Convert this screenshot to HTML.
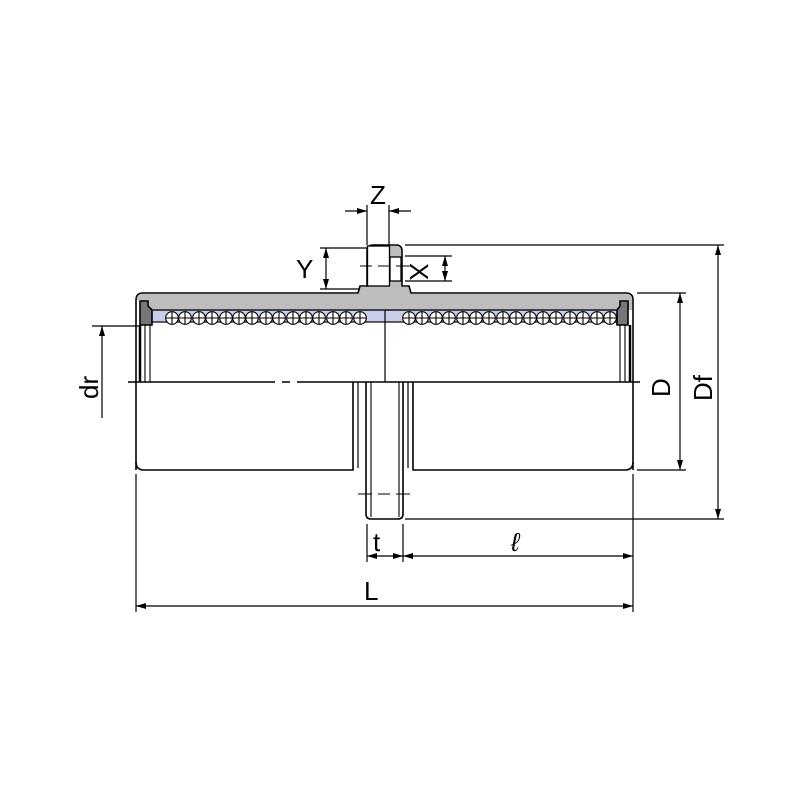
<!DOCTYPE html>
<html><head><meta charset="utf-8"><style>html,body{margin:0;padding:0;background:#fff}svg{display:block}</style></head>
<body>
<svg width="800" height="800" viewBox="0 0 800 800" xmlns="http://www.w3.org/2000/svg" font-family="Liberation Sans, sans-serif">
<defs>
<marker id="a" viewBox="0 0 10 6" refX="10" refY="3" markerWidth="10" markerHeight="6" orient="auto-start-reverse" markerUnits="userSpaceOnUse"><path d="M0,0L10,3L0,6z" fill="#000"/></marker>
<g id="b"><circle cx="0" cy="318" r="6.3" fill="#fff" stroke="#000" stroke-width="1.1"/><path d="M-6.3,318h12.6M0,311.7v12.6" stroke="#000" stroke-width="1.1"/></g>
</defs>
<g stroke="#000" fill="none" stroke-width="1.6">
<rect x="143" y="310" width="482" height="12" fill="#c8cdea" stroke="#000" stroke-width="1.2"/>
<path d="M137,300 Q137,294 143,294 L358,294 L360,287 L367,287 L367,251 Q367,246 373,246 L396,246 Q401,246 401,251 L401,287 L409,287 L411,294 L626,294 Q632,294 632,300 L632,310 L140,310 L140,300 Z" fill="#bdbdbd" stroke="none"/>
<path d="M136,300 Q136,293 143,293 L358,293 L360,286 L367,286 L367,251 Q367,245 373,245 L396,245 Q402,245 402,251 L402,286 L409,286 L411,293 L626,293 Q633,293 633,300" />
<rect x="367.5" y="246" width="22" height="40" fill="#fff" stroke="#000" stroke-width="1.3"/>
<rect x="390" y="257" width="11" height="24" fill="#fff" stroke="#000" stroke-width="1.3"/>
<line x1="150" y1="310" x2="618" y2="310" stroke-width="1.3"/>
<path d="M140,301 L148,301 L148,306 L152,310 L152,325 L140,325 Z" fill="#777"/>
<path d="M628,301 L620,301 L620,306 L617,310 L617,325 L628,325 Z" fill="#777"/>
<line x1="136" y1="300" x2="136" y2="470"/>
<line x1="633" y1="300" x2="633" y2="470"/>
<line x1="140" y1="325" x2="140" y2="382" stroke-width="2.5"/>
<line x1="145" y1="325" x2="145" y2="382" stroke-width="1.1"/>
<line x1="150" y1="325" x2="150" y2="382" stroke-width="1.1"/>
<line x1="630" y1="325" x2="630" y2="382" stroke-width="2.5"/>
<line x1="625" y1="325" x2="625" y2="382" stroke-width="1.1"/>
<line x1="620" y1="325" x2="620" y2="382" stroke-width="1.1"/>
</g>
<g>
<use href="#b" x="172"/><use href="#b" x="185"/><use href="#b" x="199"/><use href="#b" x="212"/><use href="#b" x="226"/><use href="#b" x="239"/><use href="#b" x="252"/><use href="#b" x="266"/><use href="#b" x="279"/><use href="#b" x="293"/><use href="#b" x="306"/><use href="#b" x="319"/><use href="#b" x="333"/><use href="#b" x="346"/><use href="#b" x="360"/>
<use href="#b" x="409"/><use href="#b" x="422"/><use href="#b" x="436"/><use href="#b" x="449"/><use href="#b" x="463"/><use href="#b" x="476"/><use href="#b" x="489"/><use href="#b" x="503"/><use href="#b" x="516"/><use href="#b" x="530"/><use href="#b" x="543"/><use href="#b" x="556"/><use href="#b" x="570"/><use href="#b" x="583"/><use href="#b" x="597"/><use href="#b" x="610"/>
</g>
<g stroke="#000" fill="none" stroke-width="1.6">
<line x1="385" y1="310" x2="385" y2="382" stroke-width="1.2"/>
<path d="M128,382 L275,382 M282,382 L290,382 M297,382 L640,382" stroke-width="1.4"/>
<path d="M136,462 Q136,470 144,470 L353,470 L353,382"/>
<path d="M633,462 Q633,470 625,470 L413,470 L413,382"/>
<line x1="358" y1="382" x2="358" y2="468" stroke-width="1.2"/>
<line x1="408" y1="382" x2="408" y2="468" stroke-width="1.2"/>
<path d="M366,382 L366,514 Q366,519 371,519 L398,519 Q403,519 403,514 L403,382"/>
<line x1="371" y1="382" x2="371" y2="517" stroke-width="1.1"/>
<line x1="399" y1="382" x2="399" y2="517" stroke-width="1.1"/>
<path d="M358,494 L372,494 M378,494 L390,494 M396,494 L410,494" stroke-width="1.1"/>
<path d="M360,266 L372,266 M378,266 L390,266 M396,266 L410,266" stroke-width="1.1"/>
</g>
<g stroke="#000" stroke-width="1.2" fill="none">
<line x1="367" y1="205" x2="367" y2="245"/>
<line x1="389" y1="205" x2="389" y2="245"/>
<line x1="345" y1="211" x2="367" y2="211" marker-end="url(#a)"/>
<line x1="411" y1="211" x2="389" y2="211" marker-end="url(#a)"/>
<line x1="320" y1="248" x2="367" y2="248"/>
<line x1="320" y1="289" x2="360" y2="289"/>
<line x1="326" y1="248" x2="326" y2="289" marker-start="url(#a)" marker-end="url(#a)"/>
<line x1="405" y1="256" x2="452" y2="256"/>
<line x1="405" y1="281" x2="452" y2="281"/>
<line x1="445" y1="256" x2="445" y2="281" marker-start="url(#a)" marker-end="url(#a)"/>
<line x1="405" y1="245" x2="724" y2="245"/>
<line x1="405" y1="519" x2="724" y2="519"/>
<line x1="718" y1="245" x2="718" y2="519" marker-start="url(#a)" marker-end="url(#a)"/>
<line x1="637" y1="293" x2="686" y2="293"/>
<line x1="637" y1="470" x2="686" y2="470"/>
<line x1="680" y1="293" x2="680" y2="470" marker-start="url(#a)" marker-end="url(#a)"/>
<line x1="92" y1="326" x2="140" y2="326"/>
<line x1="102" y1="418" x2="102" y2="326" marker-end="url(#a)"/>
<line x1="136" y1="474" x2="136" y2="612"/>
<line x1="633" y1="474" x2="633" y2="612"/>
<line x1="367" y1="524" x2="367" y2="562"/>
<line x1="403" y1="524" x2="403" y2="562"/>
<line x1="367" y1="556" x2="403" y2="556" marker-start="url(#a)" marker-end="url(#a)"/>
<line x1="403" y1="556" x2="633" y2="556" marker-start="url(#a)" marker-end="url(#a)"/>
<line x1="136" y1="606" x2="633" y2="606" marker-start="url(#a)" marker-end="url(#a)"/>
</g>
<g font-size="26" fill="#000">
<text x="370" y="204">Z</text>
<text x="296" y="278">Y</text>
<text transform="translate(410,263) rotate(90)">X</text>
<text x="373" y="551">t</text>
<text x="511" y="551" font-style="italic">ℓ</text>
<text x="364" y="600">L</text>
<text transform="translate(98,399) rotate(-90)">dr</text>
<text transform="translate(670,397) rotate(-90)">D</text>
<text transform="translate(712,401) rotate(-90)">Df</text>
</g>
</svg>
</body></html>
